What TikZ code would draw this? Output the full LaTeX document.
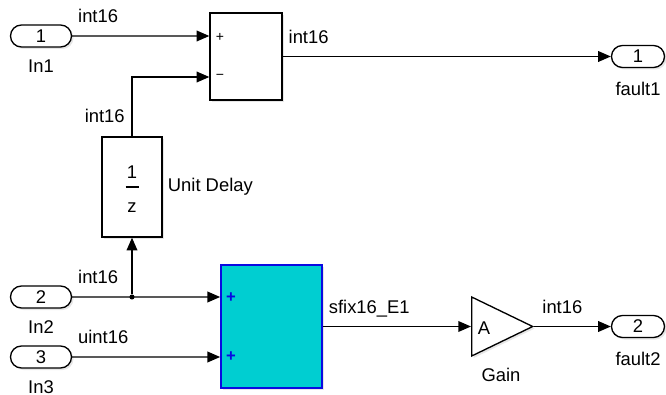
\documentclass[tikz,border=0pt]{standalone}
\usepackage{fontspec}
\setmainfont{Liberation Sans}
\usetikzlibrary{arrows.meta,positioning,shapes.misc,shapes.geometric,shadows,calc}
\definecolor{FixCyan}{RGB}{0,206,209}
\definecolor{FixBlue}{RGB}{10,10,225}
\begin{document}
\begin{tikzpicture}[x=0.75pt,y=0.75pt, every node/.style={font=\fontsize{13.8}{15}\selectfont},
  shade/.style={drop shadow={opacity=.2,shadow xshift=1.5pt,shadow yshift=-1.5pt}},
  port/.style={draw,fill=white,line width=1pt,rounded rectangle,minimum width=45.75pt,minimum height=16.5pt,inner sep=0pt,shade},
  blk/.style={draw,fill=white,line width=1pt,inner sep=0pt,shade},
  lbl/.style={inner sep=0pt},
  sig/.style={inner sep=0pt,anchor=base west,xshift=4pt,yshift=10pt},
  sigl/.style={inner sep=0pt,anchor=base east,xshift=-5pt,yshift=10.5pt},
  sgn/.style={font=\fontsize{10.5}{12}\selectfont,inner sep=0pt},
  dot/.style={circle,fill,inner sep=0pt,minimum size=3.8pt},
  wire/.style={line width=1pt,-{Triangle[length=9.5pt,width=8pt]}}]
\useasboundingbox (0,0) rectangle (666,-395);
% ports
\node[port] (in1) at (41,-36) {1};
\node[port] (in2) at (41,-297) {2};
\node[port] (in3) at (41,-357) {3};
\node[port,minimum width=39.75pt] (out1) at (638,-56.5) {1};
\node[port,minimum width=39.75pt] (out2) at (638,-326.5) {2};
\node[lbl,below=9pt of in1] (in1lbl) {In1};
\node[lbl,below=9pt of in2] (in2lbl) {In2};
\node[lbl,below=8.5pt of in3] (in3lbl) {In3};
\node[lbl,below=10.5pt of out1] (out1lbl) {fault1};
\node[lbl,below=10.5pt of out2] (out2lbl) {fault2};
% blocks
\node[blk,minimum width=54pt,minimum height=65.25pt] (sum) at (246,-56.5) {};
\node[sgn] (sump) at (220,-37) {+};
\node[sgn] (summ) at (220,-77) {−};
\node[blk,minimum width=45pt,minimum height=75pt] (delay) at (132,-187) {};
\node[lbl] (dnum) at (132,-172) {1};
\node[lbl] (dden) at (132,-207.5) {z};
\draw[line width=1pt] ($(delay.center)+(-6.5,0)$) -- ++(13,0);
\node[lbl,right=3.75pt of delay] (delaylbl) {Unit Delay};
\node[blk,draw=FixBlue,fill=FixCyan,line width=1.3pt,minimum width=75.75pt,minimum height=92.25pt] (fsum) at (271.5,-326.5) {};
\node[sgn,text=FixBlue,font=\fontsize{12.5}{14}\selectfont\bfseries] (fsp1) at (231,-298) {+};
\node[sgn,text=FixBlue,font=\fontsize{12.5}{14}\selectfont\bfseries] (fsp2) at (231,-357) {+};
\node[blk,isosceles triangle,isosceles triangle stretches,minimum width=44.25pt,minimum height=45.75pt,anchor=lower side] (gain) at (471,-326.5) {};
\node[lbl] (gaina) at (484,-328.5) {A};
\node[lbl,anchor=north] (gainlbl) at (501,-368) {Gain};
% signals
\draw[wire] (in1) -- node[sig,pos=0] {int16} (in1 -| sum.west);
\coordinate (sumin2) at ($(sum.west)+(0,-20.5)$);
\draw[wire] (delay.north) |- node[sigl,pos=0] {int16} (sumin2);
\draw[wire] (sum.east) -- node[sig,pos=0] {int16} (out1.west);
\draw[wire] (in2) -- node[sig,pos=0] {int16} (in2 -| fsum.west);
\node[dot] (jn) at (in2 -| delay) {};
\draw[wire] (jn) -- (delay.south);
\draw[wire] (in3) -- node[sig,pos=0] {uint16} (in3 -| fsum.west);
\draw[wire] (fsum.east) -- node[sig,pos=0] {sfix16\_E1} (gain.lower side);
\draw[wire] (gain.apex) -- node[sig,pos=0,xshift=1.5pt] {int16} (out2.west);
\end{tikzpicture}
\end{document}
